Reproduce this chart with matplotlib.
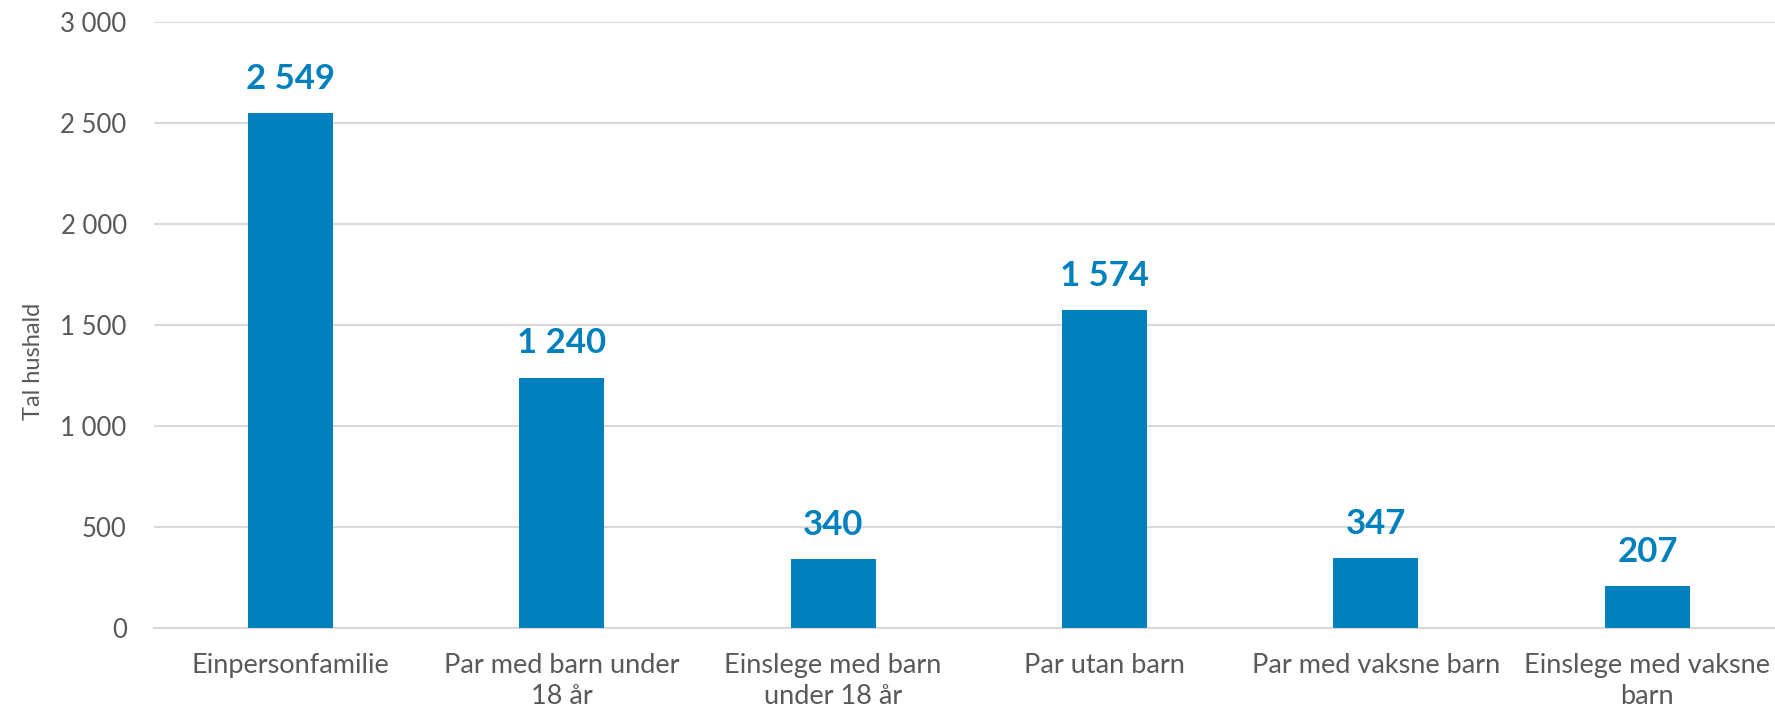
import matplotlib
matplotlib.use("Agg")
import matplotlib.pyplot as plt
from matplotlib.ticker import FuncFormatter, MultipleLocator

categories = [
    "Einpersonfamilie",
    "Par med barn under\n18 år",
    "Einslege med barn\nunder 18 år",
    "Par utan barn",
    "Par med vaksne barn",
    "Einslege med vaksne\nbarn",
]
households = [2549, 1240, 340, 1574, 347, 207]

blue = "#0080BD"
grey_text = "#595959"

plt.rcParams["font.family"] = ["Lato", "DejaVu Sans"]


def space_thousands(v, pos=None):
    return f"{int(v):,}".replace(",", " ")


fig = plt.figure(figsize=(17.75, 7.13), dpi=100)
ax = fig.add_axes([0.087, 0.1192, 0.913, 0.8499])

x = range(len(categories))
bars = ax.bar(x, households, width=0.313, color=blue, zorder=3)

for rect, v in zip(bars, households):
    ax.annotate(space_thousands(v), (rect.get_x() + rect.get_width() / 2, v),
                xytext=(0, 13), textcoords="offset points",
                ha="center", va="bottom", fontsize=25, fontweight="bold",
                color=blue)

ax.set_ylim(0, 3000)
ax.set_xlim(-0.5, 5.47)
ax.yaxis.set_major_locator(MultipleLocator(500))
ax.yaxis.set_major_formatter(FuncFormatter(space_thousands))
ax.grid(axis="y", color="#D9D9D9", linewidth=1.5, zorder=0)
ax.set_axisbelow(True)

ax.set_xticks(list(x))
ax.set_xticklabels(categories, fontsize=19.5, color=grey_text, linespacing=1.3)
ax.tick_params(axis="x", length=0, pad=18)
ax.tick_params(axis="y", length=0, pad=20, labelsize=18.5, labelcolor=grey_text)

for side in ["top", "right", "left"]:
    ax.spines[side].set_visible(False)
ax.spines["bottom"].set_color("#D9D9D9")
ax.spines["bottom"].set_linewidth(1.5)

ax.set_ylabel("Tal hushald", fontsize=17, color=grey_text)
ax.yaxis.set_label_coords(-0.068, 0.44)

fig.savefig("out.png", dpi=100)
